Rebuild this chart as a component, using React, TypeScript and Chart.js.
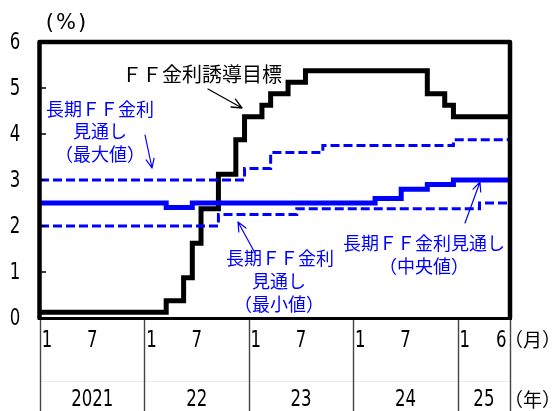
import React, { useEffect, useRef } from 'react';
import { Chart, registerables } from 'chart.js';

Chart.register(...registerables);

// Monthly data, Jan 2021 – Jun 2025 (54 months)
const yearLabels = ['2021', '22', '23', '24', '25'];
const monthTickLabels = ['1', '7'];
const lastYearMonthTickLabels = ['1', '6'];
const yTickLabels = ['0', '1', '2', '3', '4', '5', '6'];

// FF金利誘導目標 (mid-point of target range, %)
const ffTarget = [
  0.125, 0.125, 0.125, 0.125, 0.125, 0.125, 0.125, 0.125, 0.125, 0.125, 0.125, 0.125,
  0.125, 0.125, 0.375, 0.375, 0.875, 1.625, 2.375, 2.375, 3.125, 3.125, 3.875, 4.375,
  4.375, 4.625, 4.875, 4.875, 5.125, 5.125, 5.375, 5.375, 5.375, 5.375, 5.375, 5.375,
  5.375, 5.375, 5.375, 5.375, 5.375, 5.375, 5.375, 5.375, 4.875, 4.875, 4.625, 4.375,
  4.375, 4.375, 4.375, 4.375, 4.375, 4.375,
];

// 長期FF金利見通し (中央値)
const longRunMedian = [
  2.5, 2.5, 2.5, 2.5, 2.5, 2.5, 2.5, 2.5, 2.5, 2.5, 2.5, 2.5,
  2.5, 2.5, 2.4, 2.4, 2.4, 2.5, 2.5, 2.5, 2.5, 2.5, 2.5, 2.5,
  2.5, 2.5, 2.5, 2.5, 2.5, 2.5, 2.5, 2.5, 2.5, 2.5, 2.5, 2.5,
  2.5, 2.5, 2.6, 2.6, 2.6, 2.8, 2.8, 2.8, 2.9, 2.9, 2.9, 3.0,
  3.0, 3.0, 3.0, 3.0, 3.0, 3.0,
];

// 長期FF金利見通し (最大値)
const longRunMax = [
  3.0, 3.0, 3.0, 3.0, 3.0, 3.0, 3.0, 3.0, 3.0, 3.0, 3.0, 3.0,
  3.0, 3.0, 3.0, 3.0, 3.0, 3.0, 3.0, 3.0, 3.0, 3.0, 3.0, 3.25,
  3.25, 3.25, 3.6, 3.6, 3.6, 3.6, 3.6, 3.6, 3.75, 3.75, 3.75, 3.75,
  3.75, 3.75, 3.75, 3.75, 3.75, 3.75, 3.75, 3.75, 3.75, 3.75, 3.75, 3.875,
  3.875, 3.875, 3.875, 3.875, 3.875, 3.875,
];

// 長期FF金利見通し (最小値)
const longRunMin = [
  2.0, 2.0, 2.0, 2.0, 2.0, 2.0, 2.0, 2.0, 2.0, 2.0, 2.0, 2.0,
  2.0, 2.0, 2.0, 2.0, 2.0, 2.0, 2.0, 2.0, 2.25, 2.25, 2.25, 2.25,
  2.25, 2.25, 2.25, 2.25, 2.25, 2.375, 2.375, 2.375, 2.375, 2.375, 2.375, 2.375,
  2.375, 2.375, 2.375, 2.375, 2.375, 2.375, 2.375, 2.375, 2.375, 2.375, 2.375, 2.375,
  2.375, 2.375, 2.5, 2.5, 2.5, 2.5,
];

const MONTHS = ffTarget.length;
const BLUE = '#0000ff';
const NUM_FONT = '"DejaVu Sans Condensed", "DejaVu Sans", sans-serif';
const JP_FONT = '"Noto Sans CJK JP", "Noto Sans CJK SC", sans-serif';

function toSteps(values: number[]) {
  const pts = [{ x: 0, y: values[0] }];
  values.forEach((y, i) => pts.push({ x: i + 0.5, y }));
  pts.push({ x: values.length, y: values[values.length - 1] });
  return pts;
}

function drawNum(ctx: CanvasRenderingContext2D, text: string, x: number, y: number) {
  ctx.save();
  ctx.translate(x, y);
  ctx.scale(0.8, 1);
  ctx.fillText(text, 0, 0);
  ctx.restore();
}

function arrow(ctx: CanvasRenderingContext2D, x1: number, y1: number, x2: number, y2: number, color: string, width: number, head: number) {
  const ang = Math.atan2(y2 - y1, x2 - x1);
  const spread = 0.42;
  ctx.save();
  ctx.strokeStyle = color;
  ctx.lineWidth = width;
  ctx.lineCap = 'round';
  ctx.beginPath();
  ctx.moveTo(x1, y1);
  ctx.lineTo(x2, y2);
  ctx.moveTo(x2 - head * Math.cos(ang - spread), y2 - head * Math.sin(ang - spread));
  ctx.lineTo(x2, y2);
  ctx.lineTo(x2 - head * Math.cos(ang + spread), y2 - head * Math.sin(ang + spread));
  ctx.stroke();
  ctx.restore();
}

const decorPlugin = {
  id: 'decor',
  afterDatasetsDraw(chart: any) {
    const ctx: CanvasRenderingContext2D = chart.ctx;
    const { left, right, top, bottom } = chart.chartArea;
    const xs = chart.scales.x;
    const ys = chart.scales.y;
    const H = chart.height;
    ctx.save();

    // frame
    ctx.strokeStyle = '#000';
    ctx.lineJoin = 'round';
    ctx.lineWidth = 4.5;
    ctx.beginPath();
    ctx.moveTo(left - 0.5, bottom);
    ctx.lineTo(left - 0.5, top);
    ctx.lineTo(right, top);
    ctx.lineTo(right, bottom);
    ctx.stroke();
    ctx.lineWidth = 3;
    ctx.beginPath();
    ctx.moveTo(left - 2.5, bottom + 0.5);
    ctx.lineTo(right + 2, bottom + 0.5);
    ctx.stroke();

    // y inner ticks and labels
    ctx.lineWidth = 1.5;
    ctx.font = `23px ${NUM_FONT}`;
    ctx.fillStyle = '#000';
    ctx.textAlign = 'center';
    ctx.textBaseline = 'middle';
    yTickLabels.forEach((lab, i) => {
      const y = ys.getPixelForValue(i);
      if (i > 0 && i < yTickLabels.length - 1) {
        ctx.beginPath();
        ctx.moveTo(left + 1, y);
        ctx.lineTo(left + 6, y);
        ctx.stroke();
      }
      drawNum(ctx, lab, 15, y + 1);
    });

    // faint row divider
    ctx.strokeStyle = '#ededed';
    ctx.lineWidth = 1;
    ctx.beginPath();
    ctx.moveTo(left, 381.5);
    ctx.lineTo(right, 381.5);
    ctx.stroke();

    // year separators
    ctx.strokeStyle = '#444';
    ctx.lineWidth = 1.4;
    const bounds = [0, 12, 24, 36, 48, MONTHS];
    bounds.forEach((b) => {
      const x = Math.round(xs.getPixelForValue(b)) + 0.5;
      ctx.beginPath();
      ctx.moveTo(x, bottom + 2);
      ctx.lineTo(x, H);
      ctx.stroke();
    });

    // month and year labels
    ctx.fillStyle = '#000';
    ctx.font = `23px ${NUM_FONT}`;
    yearLabels.forEach((yl, yi) => {
      const start = yi * 12;
      const end = Math.min(start + 12, MONTHS);
      const ticks = yi === yearLabels.length - 1 ? lastYearMonthTickLabels : monthTickLabels;
      ticks.forEach((m) => {
        const mv = parseInt(m, 10);
        const pos = start + mv - 1 + (mv === 1 ? 0.8 : 0);
        drawNum(ctx, m, xs.getPixelForValue(pos), 341);
      });
      drawNum(ctx, yl, xs.getPixelForValue((start + end) / 2), 400);
    });

    // unit labels
    ctx.font = `19px ${JP_FONT}`;
    ctx.textAlign = 'left';
    ctx.fillText('（月）', 504, 340);
    ctx.fillText('（年）', 504, 400);
    ctx.font = '21px "DejaVu Sans", sans-serif';
    ctx.textAlign = 'center';
    (ctx as any).letterSpacing = '2px';
    ctx.fillText('(%)', 67, 24);
    (ctx as any).letterSpacing = '0px';

    // annotations
    ctx.font = `20px ${JP_FONT}`;
    ctx.fillStyle = '#000';
    ctx.fillText('ＦＦ金利誘導目標', 202, 74);
    arrow(ctx, 208, 89, 242, 108, '#000', 1.3, 11);

    ctx.font = `18px ${JP_FONT}`;
    ctx.fillStyle = BLUE;
    ctx.fillText('長期ＦＦ金利', 100, 109);
    ctx.fillText('見通し', 100, 131);
    ctx.fillText('（最大値）', 100, 154);
    arrow(ctx, 145, 135, 152, 168, BLUE, 1.2, 10);

    ctx.fillText('長期ＦＦ金利', 280, 258);
    ctx.fillText('見通し', 279, 281);
    ctx.fillText('（最小値）', 279, 304);
    arrow(ctx, 255, 253, 238, 222, BLUE, 1.2, 10);

    ctx.fillText('長期ＦＦ金利見通し', 424, 243);
    ctx.fillText('（中央値）', 424, 266);
    arrow(ctx, 465, 223, 480, 182, BLUE, 1.2, 10);

    ctx.restore();
  },
};

export default function App() {
  const ref = useRef<HTMLCanvasElement>(null);

  useEffect(() => {
    document.body.style.margin = '0';
    const canvas = ref.current;
    if (!canvas) return;
    const chart = new Chart(canvas, {
      type: 'line',
      data: {
        datasets: [
          {
            label: '長期FF金利見通し（中央値）',
            data: toSteps(longRunMedian),
            borderColor: BLUE,
            borderWidth: 5,
            stepped: true,
            pointRadius: 0,
            fill: false,
            order: 1,
          },
          {
            label: '長期FF金利見通し（最大値）',
            data: toSteps(longRunMax),
            borderColor: BLUE,
            borderWidth: 3,
            borderDash: [9, 4],
            stepped: true,
            pointRadius: 0,
            fill: false,
            order: 2,
          },
          {
            label: '長期FF金利見通し（最小値）',
            data: toSteps(longRunMin),
            borderColor: BLUE,
            borderWidth: 3,
            borderDash: [9, 4],
            stepped: true,
            pointRadius: 0,
            fill: false,
            order: 3,
          },
          {
            label: 'FF金利誘導目標',
            data: toSteps(ffTarget),
            borderColor: '#000',
            borderWidth: 5,
            stepped: true,
            pointRadius: 0,
            fill: false,
            order: 4,
          },
        ],
      },
      options: {
        responsive: false,
        animation: false,
        devicePixelRatio: 1,
        layout: { padding: { left: 40, right: 48, top: 42, bottom: 93 } },
        plugins: { legend: { display: false }, tooltip: { enabled: false } },
        elements: { line: { borderJoinStyle: 'miter', tension: 0 } },
        scales: {
          x: { type: 'linear', min: 0, max: MONTHS, display: false },
          y: { type: 'linear', min: 0, max: 6, display: false },
        },
      },
      plugins: [decorPlugin],
    });
    return () => chart.destroy();
  }, []);

  return (
    <div style={{ position: 'fixed', left: 0, top: 0, width: 558, height: 411, background: '#fff' }}>
      <canvas ref={ref} width={558} height={411} style={{ display: 'block' }} />
    </div>
  );
}
